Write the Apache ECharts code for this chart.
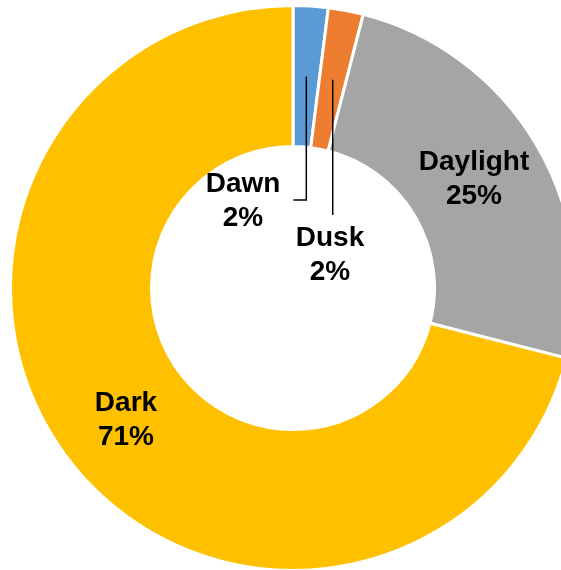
<!DOCTYPE html>
<html>
<head>
<meta charset="utf-8">
<script src="https://cdn.jsdelivr.net/npm/echarts@6/dist/echarts.min.js"></script>
<style>
  html, body { margin: 0; padding: 0; background: #fff; }
  #chart { width: 561px; height: 570px; }
</style>
</head>
<body>
<div id="chart"></div>
<script>
// Share of crashes by light condition
const categories = ['Dawn', 'Dusk', 'Daylight', 'Dark'];
const values = [2, 2, 25, 71];
const colors = ['#5B9BD5', '#ED7D31', '#A5A5A5', '#FFC000'];

// Ring geometry
const CX = 293, CY = 288;
const R_IN = 141.5, R_OUT = 282.5;

// Label block centres, as offsets from the ring centre
const labelOffsets = [[-50, -87], [37, -33], [181, -109], [-167, 132]];
// Leader lines: how far below the centre the vertical drop ends, and the horizontal tail
const leaderDrop = [-88, -73, null, null];
const leaderTail = [-13, 0, null, null];

const total = values.reduce((a, b) => a + b, 0);

function midAngle(i) {
  let before = 0;
  for (let k = 0; k < i; k++) before += values[k];
  return ((before + values[i] / 2) / total) * 2 * Math.PI;
}

const ringBase = {
  type: 'pie',
  center: [CX, CY],
  radius: [R_IN, R_OUT],
  startAngle: 90,
  clockwise: true,
  avoidLabelOverlap: false,
  emphasis: { disabled: true },
  silent: true
};

const chart = echarts.init(document.getElementById('chart'), null, { renderer: 'canvas' });

chart.setOption({
  animation: false,
  series: [
    // coloured ring
    Object.assign({}, ringBase, {
      z: 2,
      itemStyle: { borderColor: '#fff', borderWidth: 3 },
      label: { show: false },
      labelLine: { show: false },
      data: categories.map((name, i) => ({
        name: name,
        value: values[i],
        itemStyle: { color: colors[i] }
      }))
    }),
    // labels and leader lines, drawn above the ring
    Object.assign({}, ringBase, {
      z: 3,
      itemStyle: { color: 'rgba(0,0,0,0)', borderWidth: 0 },
      label: {
        show: true,
        position: 'outside',
        formatter: '{b}\n{d}%',
        color: '#000',
        fontFamily: 'Liberation Sans, Arial, sans-serif',
        fontWeight: 'bold',
        fontSize: 28,
        lineHeight: 34
      },
      labelLine: {
        show: true,
        lineStyle: { color: '#000', width: 1.5 }
      },
      labelLayout: function (p) {
        const i = p.dataIndex;
        const out = {
          x: CX + labelOffsets[i][0],
          y: CY + labelOffsets[i][1],
          align: 'center',
          verticalAlign: 'middle'
        };
        if (leaderDrop[i] !== null) {
          const a = midAngle(i);
          const rm = (R_IN + R_OUT) / 2;
          const sx = CX + rm * Math.sin(a);
          const sy = CY - rm * Math.cos(a);
          const ey = CY + leaderDrop[i];
          out.labelLinePoints = [[sx, sy], [sx, ey], [sx + leaderTail[i], ey]];
        }
        return out;
      },
      data: categories.map((name, i) => ({
        name: name,
        value: values[i],
        labelLine: { show: leaderDrop[i] !== null }
      }))
    })
  ]
});
</script>
</body>
</html>
